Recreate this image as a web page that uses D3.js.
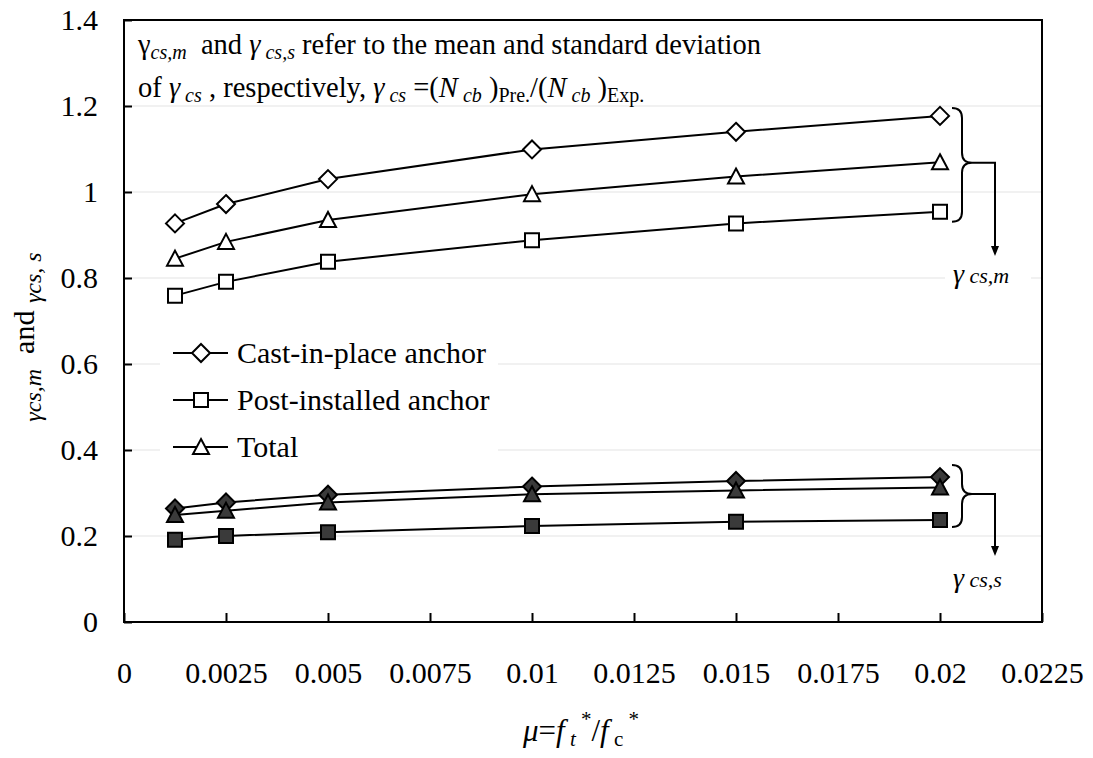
<!DOCTYPE html>
<html>
<head>
<meta charset="utf-8">
<style>
  body { margin: 0; background: #fff; }
  svg text { font-family: "Liberation Serif", "Times New Roman", "DejaVu Serif", serif !important; fill: #000; }
  .axis line { stroke: #000; stroke-width: 2; }
</style>
</head>
<body>
<svg width="1093" height="758"></svg>
<script src="https://d3js.org/d3.v7.min.js"></script>
<script>
// ratio mu = ft*/fc*
var mu = [0.00125, 0.0025, 0.005, 0.01, 0.015, 0.02];

// mean of gamma_cs
var meanCast  = [0.927, 0.972, 1.030, 1.099, 1.140, 1.177];
var meanPost  = [0.759, 0.791, 0.838, 0.888, 0.927, 0.954];
var meanTotal = [0.845, 0.884, 0.935, 0.995, 1.036, 1.069];

// standard deviation of gamma_cs
var stdCast  = [0.264, 0.278, 0.296, 0.315, 0.328, 0.337];
var stdPost  = [0.191, 0.200, 0.209, 0.223, 0.233, 0.237];
var stdTotal = [0.249, 0.259, 0.278, 0.297, 0.306, 0.313];

var xTicks = [0, 0.0025, 0.005, 0.0075, 0.01, 0.0125, 0.015, 0.0175, 0.02, 0.0225];
var yTicks = [0, 0.2, 0.4, 0.6, 0.8, 1, 1.2, 1.4];
var legendNames = ["Cast-in-place anchor", "Post-installed anchor", "Total"];

var svg = d3.select("svg"),
    margin = {top: 20, right: 51, bottom: 136, left: 124},
    width = +svg.attr("width"),
    height = +svg.attr("height");

var x = d3.scaleLinear().domain([0, 0.0225]).range([margin.left, width - margin.right]);
var y = d3.scaleLinear().domain([0, 1.4]).range([height - margin.bottom, margin.top]);

// grid
svg.append("g")
    .selectAll("line")
    .data(yTicks.filter(function(d) { return d > 0 && d < 1.4; }))
    .enter().append("line")
    .attr("x1", x(0)).attr("x2", x(0.0225))
    .attr("y1", function(d) { return y(d); })
    .attr("y2", function(d) { return y(d); })
    .attr("stroke", "#e3e3e3")
    .attr("stroke-width", 1.2);

// frame
svg.append("rect")
    .attr("x", x(0)).attr("y", y(1.4))
    .attr("width", x(0.0225) - x(0)).attr("height", y(0) - y(1.4))
    .attr("fill", "none").attr("stroke", "#000").attr("stroke-width", 2);

svg.append("g")
    .attr("class", "axis")
    .attr("transform", "translate(0," + y(0) + ")")
    .call(d3.axisBottom(x).tickValues(xTicks).tickSizeInner(-9).tickSizeOuter(0).tickPadding(40)
        .tickFormat(function(d) { return String(+d.toFixed(4)); }))
    .call(function(g) { g.select(".domain").remove(); g.attr("font-size", 30); });

svg.append("g")
    .attr("class", "axis")
    .attr("transform", "translate(" + x(0) + ",0)")
    .call(d3.axisLeft(y).tickValues(yTicks).tickSizeInner(-8).tickSizeOuter(0).tickPadding(26)
        .tickFormat(function(d) { return String(+d.toFixed(1)); }))
    .call(function(g) { g.select(".domain").remove(); g.attr("font-size", 30); });

// annotation text
var note = svg.append("g").attr("font-size", 28.5);
function sub(t, txt, italic, dy) {
  t.append("tspan").attr("font-size", 20).attr("dy", dy)
    .attr("font-style", italic ? "italic" : "normal").text(txt);
}
var l1 = note.append("text").attr("x", 138).attr("y", 54);
l1.append("tspan").text("γ");
sub(l1, "cs,m", true, 5);
l1.append("tspan").attr("dy", -5).text("\u00a0 and ");
l1.append("tspan").attr("font-style", "italic").text("γ");
sub(l1, "\u00a0cs,s", true, 5);
l1.append("tspan").attr("dy", -5).text(" refer to the mean and standard deviation");

var l2 = note.append("text").attr("x", 138).attr("y", 97);
l2.append("tspan").text("of ");
l2.append("tspan").attr("font-style", "italic").text("γ");
sub(l2, "\u00a0cs", true, 5);
l2.append("tspan").attr("dy", -5).text(" , respectively, ");
l2.append("tspan").attr("font-style", "italic").text("γ");
sub(l2, "\u00a0cs", true, 5);
l2.append("tspan").attr("dy", -5).text(" =(");
l2.append("tspan").attr("font-style", "italic").text("N");
sub(l2, "\u00a0cb", true, 5);
l2.append("tspan").attr("dy", -5).text(" )");
sub(l2, "Pre.", false, 5);
l2.append("tspan").attr("dy", -5).text("/(");
l2.append("tspan").attr("font-style", "italic").text("N");
sub(l2, "\u00a0cb", true, 5);
l2.append("tspan").attr("dy", -5).text(" )");
sub(l2, "Exp.", false, 5);

// series
var series = [
  {vals: meanCast,  shape: "diamond",  fill: "#fff"},
  {vals: meanPost,  shape: "square",   fill: "#fff"},
  {vals: meanTotal, shape: "triangle", fill: "#fff"},
  {vals: stdCast,   shape: "diamond",  fill: "#3a3a3a"},
  {vals: stdPost,   shape: "square",   fill: "#3a3a3a"},
  {vals: stdTotal,  shape: "triangle", fill: "#3a3a3a"}
];

function markerPath(shape) {
  if (shape === "diamond") return "M0,-9L9,0L0,9L-9,0Z";
  if (shape === "square") return "M-7,-7H7V7H-7Z";
  return "M0,-8L8,7H-8Z";
}

var line = d3.line()
    .x(function(d, i) { return x(mu[i]); })
    .y(function(d) { return y(d); });

series.forEach(function(s) {
  svg.append("path")
      .datum(s.vals)
      .attr("fill", "none").attr("stroke", "#000").attr("stroke-width", 2)
      .attr("d", line);
  svg.append("g")
      .selectAll("path")
      .data(s.vals)
      .enter().append("path")
      .attr("transform", function(d, i) { return "translate(" + x(mu[i]) + "," + y(d) + ")"; })
      .attr("d", markerPath(s.shape))
      .attr("fill", s.fill).attr("stroke", "#000").attr("stroke-width", 2);
});

// legend
var legend = svg.append("g");
legend.append("rect")
    .attr("x", 160).attr("y", 332).attr("width", 338).attr("height", 136).attr("fill", "#fff");
var legendShapes = ["diamond", "square", "triangle"];
legendNames.forEach(function(name, i) {
  var ly = 353 + i * 47;
  legend.append("line").attr("x1", 173).attr("x2", 228).attr("y1", ly).attr("y2", ly)
      .attr("stroke", "#000").attr("stroke-width", 2);
  legend.append("path").attr("transform", "translate(201," + ly + ")")
      .attr("d", markerPath(legendShapes[i]))
      .attr("fill", "#fff").attr("stroke", "#000").attr("stroke-width", 2);
  legend.append("text").attr("x", 237).attr("y", ly + 10)
      .attr("font-size", 30).text(name);
});

// braces + arrows
function brace(top, bottom, label) {
  var x0 = x(0.02) + 12, xv = x0 + 10, xt = xv + 10, mid = (top + bottom) / 2 - 2, r = 10;
  var g = svg.append("g");
  g.append("path")
      .attr("d", "M" + x0 + "," + top +
        "Q" + xv + "," + top + " " + xv + "," + (top + r) +
        "L" + xv + "," + (mid - r) +
        "Q" + xv + "," + mid + " " + xt + "," + mid +
        "Q" + xv + "," + mid + " " + xv + "," + (mid + r) +
        "L" + xv + "," + (bottom - r) +
        "Q" + xv + "," + bottom + " " + x0 + "," + bottom)
      .attr("fill", "none").attr("stroke", "#000").attr("stroke-width", 2);
  var ax = x(0.02) + 55, ay = label.arrowEnd;
  g.append("path")
      .attr("d", "M" + xt + "," + mid + "H" + ax + "V" + (ay - 9))
      .attr("fill", "none").attr("stroke", "#000").attr("stroke-width", 2);
  g.append("path")
      .attr("d", "M" + (ax - 4) + "," + (ay - 10) + "L" + (ax + 4) + "," + (ay - 10) + "L" + ax + "," + ay + "Z")
      .attr("fill", "#000");
  g.append("rect").attr("x", ax - 50).attr("y", label.base - 24).attr("width", 86).attr("height", 32).attr("fill", "#fff");
  var t = g.append("text").attr("x", ax - 42).attr("y", label.base).attr("font-size", 28).attr("font-style", "italic");
  t.append("tspan").text("γ");
  t.append("tspan").attr("font-size", 22).text("\u00a0" + label.sub);
}
brace(y(d3.max(meanCast)) - 8, y(meanPost[5]) + 10, {sub: "cs,m", arrowEnd: 256, base: 283});
brace(y(d3.max(stdCast)) - 12, y(stdPost[5]) + 7, {sub: "cs,s", arrowEnd: 556, base: 587});

// axis titles
var xt = svg.append("text").attr("x", 581).attr("y", 741).attr("text-anchor", "middle")
    .attr("font-size", 31).attr("font-style", "italic");
xt.append("tspan").text("μ");
xt.append("tspan").attr("font-style", "normal").text("=");
xt.append("tspan").text("f");
xt.append("tspan").attr("font-size", 21).attr("dy", 5).text("\u00a0t");
xt.append("tspan").attr("font-size", 21).attr("dy", -20).attr("font-style", "normal").text("\u00a0*");
xt.append("tspan").attr("dy", 15).attr("font-style", "normal").text("/");
xt.append("tspan").text("f");
xt.append("tspan").attr("font-size", 21).attr("dy", 5).attr("font-style", "normal").text("\u00a0c");
xt.append("tspan").attr("font-size", 21).attr("dy", -20).attr("font-style", "normal").text("\u00a0*");

var yt = svg.append("text")
    .attr("transform", "translate(34,337) rotate(-90)")
    .attr("text-anchor", "middle").attr("font-size", 30);
yt.append("tspan").attr("font-style", "italic").attr("font-size", 24).attr("dy", 7).text("γcs,m");
yt.append("tspan").attr("dy", -7).text("\u00a0 and ");
yt.append("tspan").attr("font-style", "italic").attr("font-size", 24).attr("dy", 7).text("γcs, s");
</script>
</body>
</html>
